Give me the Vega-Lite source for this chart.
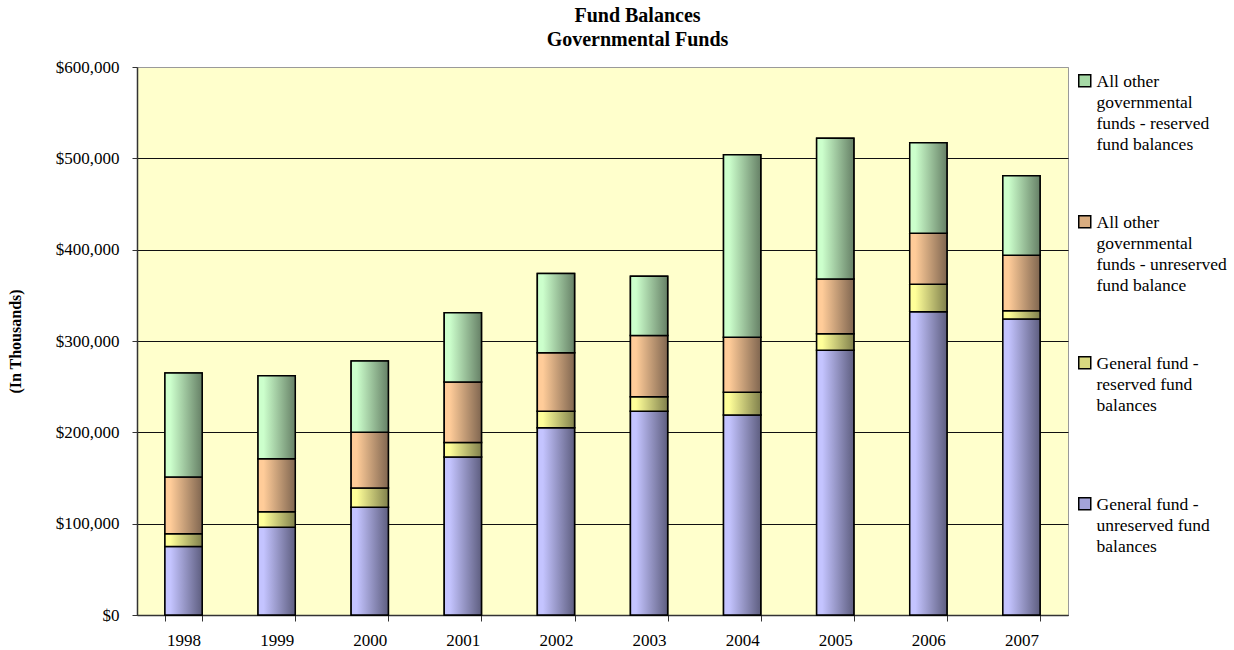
{
  "$schema": "https://vega.github.io/schema/vega-lite/v6.json",
  "width": 931,
  "height": 548,
  "autosize": "none",
  "padding": {"left": 137, "top": 67, "right": 166, "bottom": 35},
  "background": "white",
  "config": {
    "view": {"fill": "#FFFFCC", "stroke": "#9a9a9a", "strokeWidth": 1},
    "font": "Liberation Serif"
  },
  "title": {
    "text": ["Fund Balances", "Governmental Funds"],
    "font": "Liberation Serif",
    "fontSize": 20,
    "fontWeight": "bold",
    "color": "black",
    "anchor": "middle",
    "dx": 35,
    "lineHeight": 24,
    "offset": 8
  },
  "data": {
    "values": [
      {"year": "1998", "series": "General fund - unreserved fund balances", "value": 75000},
      {"year": "1998", "series": "General fund - reserved fund balances", "value": 14000},
      {"year": "1998", "series": "All other governmental funds - unreserved fund balance", "value": 62000},
      {"year": "1998", "series": "All other governmental funds - reserved fund balances", "value": 114000},
      {"year": "1999", "series": "General fund - unreserved fund balances", "value": 96000},
      {"year": "1999", "series": "General fund - reserved fund balances", "value": 17000},
      {"year": "1999", "series": "All other governmental funds - unreserved fund balance", "value": 58000},
      {"year": "1999", "series": "All other governmental funds - reserved fund balances", "value": 91000},
      {"year": "2000", "series": "General fund - unreserved fund balances", "value": 118000},
      {"year": "2000", "series": "General fund - reserved fund balances", "value": 21000},
      {"year": "2000", "series": "All other governmental funds - unreserved fund balance", "value": 61000},
      {"year": "2000", "series": "All other governmental funds - reserved fund balances", "value": 78000},
      {"year": "2001", "series": "General fund - unreserved fund balances", "value": 173000},
      {"year": "2001", "series": "General fund - reserved fund balances", "value": 16000},
      {"year": "2001", "series": "All other governmental funds - unreserved fund balance", "value": 66000},
      {"year": "2001", "series": "All other governmental funds - reserved fund balances", "value": 76000},
      {"year": "2002", "series": "General fund - unreserved fund balances", "value": 205000},
      {"year": "2002", "series": "General fund - reserved fund balances", "value": 18000},
      {"year": "2002", "series": "All other governmental funds - unreserved fund balance", "value": 64000},
      {"year": "2002", "series": "All other governmental funds - reserved fund balances", "value": 87000},
      {"year": "2003", "series": "General fund - unreserved fund balances", "value": 223000},
      {"year": "2003", "series": "General fund - reserved fund balances", "value": 16000},
      {"year": "2003", "series": "All other governmental funds - unreserved fund balance", "value": 67000},
      {"year": "2003", "series": "All other governmental funds - reserved fund balances", "value": 65000},
      {"year": "2004", "series": "General fund - unreserved fund balances", "value": 219000},
      {"year": "2004", "series": "General fund - reserved fund balances", "value": 25000},
      {"year": "2004", "series": "All other governmental funds - unreserved fund balance", "value": 60000},
      {"year": "2004", "series": "All other governmental funds - reserved fund balances", "value": 200000},
      {"year": "2005", "series": "General fund - unreserved fund balances", "value": 290000},
      {"year": "2005", "series": "General fund - reserved fund balances", "value": 18000},
      {"year": "2005", "series": "All other governmental funds - unreserved fund balance", "value": 60000},
      {"year": "2005", "series": "All other governmental funds - reserved fund balances", "value": 154000},
      {"year": "2006", "series": "General fund - unreserved fund balances", "value": 332000},
      {"year": "2006", "series": "General fund - reserved fund balances", "value": 30000},
      {"year": "2006", "series": "All other governmental funds - unreserved fund balance", "value": 56000},
      {"year": "2006", "series": "All other governmental funds - reserved fund balances", "value": 99000},
      {"year": "2007", "series": "General fund - unreserved fund balances", "value": 324000},
      {"year": "2007", "series": "General fund - reserved fund balances", "value": 9000},
      {"year": "2007", "series": "All other governmental funds - unreserved fund balance", "value": 61000},
      {"year": "2007", "series": "All other governmental funds - reserved fund balances", "value": 87000}
    ]
  },
  "transform": [
    {"stack": "value", "groupby": ["year"], "sort": [{"field": "series", "order": "descending"}], "as": ["y0", "y1"]}
  ],
  "encoding": {
    "x": {
      "field": "year",
      "type": "ordinal",
      "scale": {"paddingInner": 0.6, "paddingOuter": 0.3},
      "axis": {
        "title": null,
        "labelAngle": 0,
        "labelFont": "Liberation Serif",
        "labelFontSize": 17,
        "labelColor": "black",
        "labelPadding": 11,
        "tickBand": "extent",
        "tickSize": 6,
        "tickColor": "#333333",
        "tickWidth": 1,
        "domainColor": "#333333",
        "domainWidth": 1.5
      }
    },
    "y": {
      "field": "y1",
      "type": "quantitative",
      "scale": {"domain": [0, 600000], "nice": false},
      "axis": {
        "title": "(In Thousands)",
        "titleFont": "Liberation Serif",
        "titleFontSize": 16,
        "titleFontWeight": "bold",
        "titleColor": "black",
        "titleX": -122,
        "titleY": 274,
        "titleAngle": 270,
        "titleAlign": "center",
        "titleBaseline": "middle",
        "values": [0, 100000, 200000, 300000, 400000, 500000, 600000],
        "format": "$,.0f",
        "labelFont": "Liberation Serif",
        "labelFontSize": 17,
        "labelColor": "black",
        "labelPadding": 13,
        "tickSize": 5,
        "tickColor": "#333333",
        "domainColor": "#333333",
        "domainWidth": 1.5,
        "gridColor": {"condition": {"test": "datum.value == 600000", "value": "#9a9a9a"}, "value": "#111111"},
        "gridWidth": 1
      }
    },
    "y2": {"field": "y0"}
  },
  "layer": [
    {
      "mark": {"type": "bar", "stroke": "black", "strokeWidth": 1.5},
      "encoding": {
        "color": {
          "field": "series",
          "type": "nominal",
          "scale": {
            "domain": [
              "All other governmental funds - reserved fund balances",
              "All other governmental funds - unreserved fund balance",
              "General fund - reserved fund balances",
              "General fund - unreserved fund balances"
            ],
            "range": ["#A6D9A6", "#D9AD80", "#D9D980", "#A3A3D9"]
          },
          "legend": {
            "title": null,
            "orient": "none",
            "legendX": 939,
            "legendY": 5,
            "padding": 0,
            "direction": "vertical",
            "gridAlign": "all",
            "rowPadding": 58,
            "symbolType": "square",
            "symbolSize": 144,
            "symbolStrokeColor": "black",
            "symbolStrokeWidth": 1.5,
            "symbolOffset": 0,
            "labelFont": "Liberation Serif",
            "labelFontSize": 17.5,
            "labelColor": "black",
            "labelLimit": 300,
            "labelOffset": 3,
            "labelBaseline": "top",
            "labelExpr": "datum.label == 'All other governmental funds - reserved fund balances' ? ['All other', 'governmental', 'funds - reserved', 'fund balances'] : datum.label == 'All other governmental funds - unreserved fund balance' ? ['All other', 'governmental', 'funds - unreserved', 'fund balance'] : datum.label == 'General fund - reserved fund balances' ? ['General fund -', 'reserved fund', 'balances'] : ['General fund -', 'unreserved fund', 'balances']",
            "encode": {"labels": {"update": {"lineHeight": {"value": 21}, "dy": {"value": -8}}}}
          }
        }
      }
    },
    {
      "transform": [{"filter": "datum.series == 'General fund - unreserved fund balances'"}],
      "mark": {"type": "bar", "stroke": "black", "strokeWidth": 1.5,
        "color": {"gradient": "linear", "x1": 0, "x2": 1, "y1": 0, "y2": 0,
          "stops": [{"offset": 0, "color": "#C4C4FF"}, {"offset": 0.15, "color": "#C4C4FF"}, {"offset": 1, "color": "#5E5E80"}]}}
    },
    {
      "transform": [{"filter": "datum.series == 'General fund - reserved fund balances'"}],
      "mark": {"type": "bar", "stroke": "black", "strokeWidth": 1.5,
        "color": {"gradient": "linear", "x1": 0, "x2": 1, "y1": 0, "y2": 0,
          "stops": [{"offset": 0, "color": "#FFFF99"}, {"offset": 0.15, "color": "#FFFF99"}, {"offset": 1, "color": "#80804C"}]}}
    },
    {
      "transform": [{"filter": "datum.series == 'All other governmental funds - unreserved fund balance'"}],
      "mark": {"type": "bar", "stroke": "black", "strokeWidth": 1.5,
        "color": {"gradient": "linear", "x1": 0, "x2": 1, "y1": 0, "y2": 0,
          "stops": [{"offset": 0, "color": "#FFCC99"}, {"offset": 0.15, "color": "#FFCC99"}, {"offset": 1, "color": "#806650"}]}}
    },
    {
      "transform": [{"filter": "datum.series == 'All other governmental funds - reserved fund balances'"}],
      "mark": {"type": "bar", "stroke": "black", "strokeWidth": 1.5,
        "color": {"gradient": "linear", "x1": 0, "x2": 1, "y1": 0, "y2": 0,
          "stops": [{"offset": 0, "color": "#CCFFCC"}, {"offset": 0.15, "color": "#CCFFCC"}, {"offset": 1, "color": "#668066"}]}}
    }
  ]
}
